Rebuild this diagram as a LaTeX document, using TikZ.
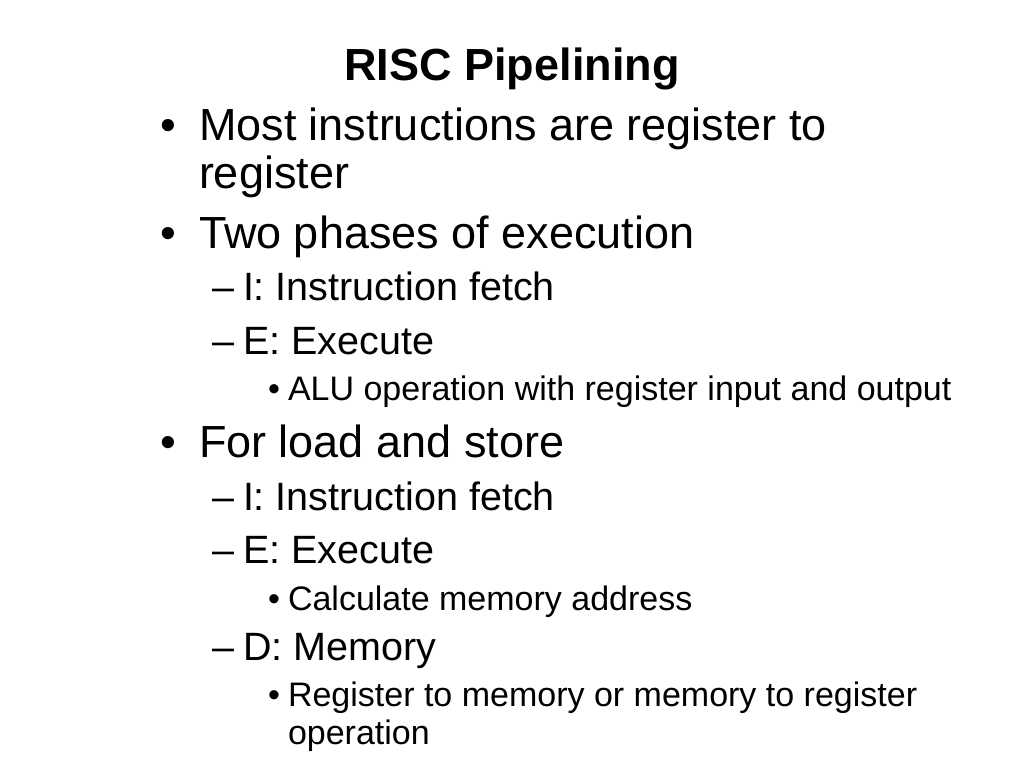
\documentclass[tikz,border=0pt]{standalone}
\usepackage{fontspec}
\setmainfont{Liberation Sans}
\begin{document}
\begin{tikzpicture}[x=1pt,y=-1pt,
  every node/.style={inner sep=0pt,outer sep=0pt,anchor=base west,text=black},
  title/.style={anchor=base,font=\fontsize{45}{54}\selectfont\bfseries},
  lone/.style={font=\fontsize{45}{54}\selectfont},
  ltwo/.style={font=\fontsize{39.5}{47}\selectfont},
  lthree/.style={font=\fontsize{34}{40}\selectfont}]
\useasboundingbox[fill=white] (0,0) rectangle (1024,768);
\node[title] (t) at (512,80) {RISC Pipelining};
% level 1
\node[lone] (b1) at (160,140) {•};
\node[lone] (a1) at (199,140) {Most instructions are register to};
\node[lone] (a1b) at (199,188) {register};
\node[lone] (b2) at (160,248) {•};
\node[lone] (a2) at (199,248) {Two phases of execution};
\node[ltwo] (d1) at (212,300) {–};
\node[ltwo] (a3) at (243,300) {I: Instruction fetch};
\node[ltwo] (d2) at (212,354) {–};
\node[ltwo] (a4) at (243,354) {E: Execute};
\node[lthree] (b3) at (268,400) {•};
\node[lthree] (a5) at (288,400) {ALU operation with register input and output};
\node[lone] (b4) at (160,457) {•};
\node[lone] (a6) at (199,457) {For load and store};
\node[ltwo] (d3) at (212,510) {–};
\node[ltwo] (a7) at (243,510) {I: Instruction fetch};
\node[ltwo] (d4) at (212,563) {–};
\node[ltwo] (a8) at (243,563) {E: Execute};
\node[lthree] (b5) at (268,610) {•};
\node[lthree] (a9) at (288,610) {Calculate memory address};
\node[ltwo] (d5) at (212,660) {–};
\node[ltwo] (a10) at (243,660) {D: Memory};
\node[lthree] (b6) at (268,706) {•};
\node[lthree] (a11) at (288,706) {Register to memory or memory to register};
\node[lthree] (a11b) at (288,744) {operation};
\end{tikzpicture}
\end{document}
